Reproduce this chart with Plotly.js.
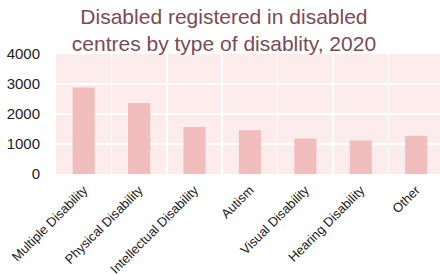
<!DOCTYPE html>
<html>
<head>
<meta charset="utf-8">
<script src="https://cdn.plot.ly/plotly-3.0.1.min.js"></script>
<style>html,body{margin:0;padding:0;background:#fff;}#chart{width:440px;height:274px;}</style>
</head>
<body>
<div id="chart"></div>
<script>
const categories = ["Multiple Disability", "Physical Disability", "Intellectual Disability", "Autism", "Visual Disability", "Hearing Disability", "Other"];
const registered = [2880, 2370, 1570, 1460, 1180, 1120, 1270];
const yTicks = [0, 1000, 2000, 3000, 4000];
const titleText = "Disabled registered in disabled<br>centres by type of disablity, 2020";

const trace = {
  type: "bar",
  x: categories,
  y: registered,
  marker: {color: "#f1bdbd", line: {width: 0}},
  hoverinfo: "x+y"
};

const layout = {
  width: 440,
  height: 274,
  margin: {l: 56, r: 0, t: 54, b: 100, pad: 0},
  paper_bgcolor: "#ffffff",
  plot_bgcolor: "#fcecec",
  bargap: 0.6,
  showlegend: false,
  font: {family: "Liberation Sans, Arial, sans-serif", color: "#222"},
  title: {
    text: titleText,
    font: {family: "Liberation Sans, Arial, sans-serif", size: 21, color: "#7b4a55"},
    xref: "container", x: 0.509, xanchor: "center",
    yref: "container", y: 0.912, yanchor: "top"
  },
  xaxis: {
    type: "category",
    range: [-0.5, 6.43],
    tickson: "boundaries",
    showgrid: true,
    gridcolor: "#ffffff",
    gridwidth: 1.5,
    ticks: "",
    ticklabelstandoff: 5,
    tickangle: -45,
    tickfont: {size: 13, color: "#222"},
    zeroline: false,
    showline: false,
    fixedrange: true
  },
  yaxis: {
    range: [0, 4000],
    tickvals: yTicks,
    ticktext: yTicks.map(String),
    showgrid: true,
    gridcolor: "#ffffff",
    gridwidth: 1.5,
    ticks: "outside",
    ticklen: 12,
    tickcolor: "rgba(0,0,0,0)",
    tickfont: {size: 15, color: "#222"},
    zeroline: false,
    showline: false,
    fixedrange: true
  }
};

Plotly.newPlot("chart", [trace], layout, {displayModeBar: false, staticPlot: true});
</script>
</body>
</html>
